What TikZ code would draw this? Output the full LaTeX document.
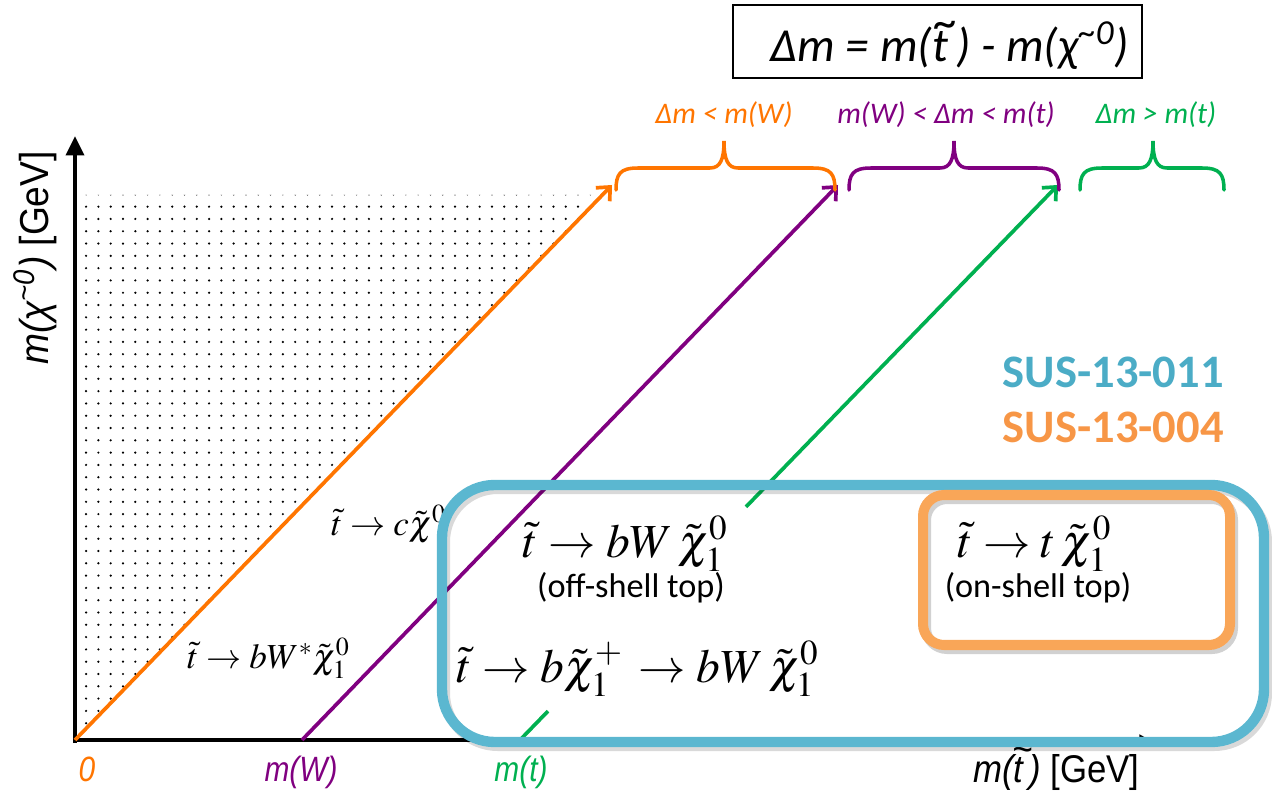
\documentclass[tikz,border=0pt]{standalone}
\usepackage{mathptmx}
\usepackage[no-math]{fontspec}
\usetikzlibrary{arrows.meta,patterns.meta,calc}
\setmainfont{Liberation Serif}
\newfontfamily\carl{Carlito}
\newfontfamily\arl{Liberation Sans}
\definecolor{cOr}{RGB}{255,117,0}
\definecolor{cPu}{RGB}{128,0,128}
\definecolor{cGr}{RGB}{0,176,80}
\definecolor{cBl}{RGB}{91,183,208}
\definecolor{cBlT}{RGB}{75,172,198}
\definecolor{cOrT}{RGB}{247,150,70}
\definecolor{cOrB}{RGB}{249,166,88}
\newcommand\tilt[1]{\ooalign{#1\cr\hidewidth\kern.25em\raisebox{.5em}{\textasciitilde}\hidewidth\cr}}
\newcommand\rangebrace[4]{% color, x1, xc, x2
  \draw[#1,bracestyle] (#2,190) .. controls (#2,174) and ({#2+4},168) .. ({#2+22},168)
    -- ({#3-14},168) .. controls ({#3-4},168) and (#3,160) .. (#3,141)
    .. controls (#3,160) and ({#3+4},168) .. ({#3+14},168)
    -- ({#4-22},168) .. controls ({#4-4},168) and (#4,174) .. (#4,190);}
\begin{document}
\begin{tikzpicture}[x=0.02cm,y=-0.02cm,
  diag/.style={line width=2.1pt,-{Straight Barb[length=6pt,width=11pt]}},
  bracestyle/.style={line width=2pt,line cap=round},
  rlab/.style={font=\carl\itshape\fontsize{17}{17}\selectfont,anchor=base},
  axlab/.style={font=\arl\itshape\fontsize{20}{20}\selectfont,anchor=base},
  bigeq/.style={font=\fontsize{27}{27}\selectfont,anchor=base west,inner sep=0pt},
  smalleq/.style={font=\fontsize{20}{20}\selectfont,anchor=base west,inner sep=0pt},
  shelltxt/.style={font=\carl\fontsize{19.5}{19.5}\selectfont,anchor=base,inner sep=0pt},
  sustxt/.style={font=\carl\bfseries\fontsize{26.5}{26.5}\selectfont,anchor=base east,inner sep=0pt},
  axis/.style={line width=2.6pt}]
\useasboundingbox (0,0) rectangle (1272,797);
% coordinates
\coordinate (O) at (75,740);
\coordinate (W0) at (302,740);
\coordinate (T0) at (520,740);
\coordinate (O1) at (612,185);
\coordinate (W1) at (838,185);
\coordinate (T1) at (1058,185);
% dotted region
\fill[pattern={Dots[distance=7pt,radius=0.7pt]},pattern color=black] (79,195) -- (602,195) -- (78,738) -- cycle;
% axes
\draw[axis,-{Triangle[length=11pt,width=10pt]}] (75,743) -- (75,136);
\draw[axis,-{Triangle[length=6pt,width=6pt]}] (73,740) -- (1150,740);
% diagonal lines
\draw[diag,cOr] (O) -- (O1);
\draw[diag,cPu] (W0) -- (W1);
\draw[line width=2.1pt,cGr] (T0) -- ($(T0)!0.052!(T1)$);
\draw[diag,cGr] ($(T0)!0.42!(T1)$) -- (T1);
% braces
\rangebrace{cOr}{616}{724}{835}
\rangebrace{cPu}{849}{954}{1059}
\rangebrace{cGr}{1080}{1153}{1224}
\node[rlab,text=cOr] (r1) at (724,124) {Δm < m(W)};
\node[rlab,text=cPu] (r2) at (946,124) {m(W) < Δm < m(t)};
\node[rlab,text=cGr] (r3) at (1156,124) {Δm > m(t)};
% formula box
\node[draw,line width=0.9pt,minimum width=8.18cm,minimum height=1.46cm] (fb) at (937.5,41.5) {};
\node[font=\carl\itshape\fontsize{27}{27}\selectfont,anchor=base,inner sep=0pt] (ft) at (950,62)
  {Δm = m(\tilt{t}\,) - m(χ\textsuperscript{\textasciitilde0})};
% axis labels
\node[axlab,text=cOr] (l0) at (87,781) {\scalebox{0.85}[1]{0}};
\node[axlab,text=cPu] (lW) at (301,781) {\scalebox{0.85}[1]{m(W)}};
\node[axlab,text=cGr] (lt) at (521,781) {\scalebox{0.85}[1]{m(t)}};
\node[axlab,anchor=base west,font=\arl\itshape\fontsize{22}{22}\selectfont] (lx) at (967,782) {\scalebox{0.9}[1]{m(\tilt{t}\,) \upshape[GeV]}};
\node[axlab,rotate=90,font=\arl\itshape\fontsize{23}{23}\selectfont] (ly) at (49,258) {\scalebox{0.92}[1]{m(χ\textsuperscript{\textasciitilde0}) \upshape[GeV]}};
% small equations
\node[smalleq] (ec) at (331,535) {$\tilde{t}\rightarrow c\tilde{\chi}^{0}$};
\node[smalleq] (ew) at (187,668) {$\tilde{t}\rightarrow bW^{*}\tilde{\chi}_{1}^{0}$};
% shadows
\draw[black,opacity=0.15,line width=5.7pt,rounded corners=30pt] (445,489) rectangle (1267,746);
% blue box
\draw[cBl,line width=5.9pt,rounded corners=30pt] (442,485) rectangle (1264,742);
% orange box
\draw[black,opacity=0.18,line width=5.7pt,rounded corners=12pt] (926,499) rectangle (1233,649);
\draw[cOrB,line width=5.7pt,rounded corners=12pt] (923,495) rectangle (1230,645);
% big equations
\node[bigeq] (e1) at (522,557) {$\tilde{t}\rightarrow bW\,\tilde{\chi}_{1}^{0}$};
\node[shelltxt] (s1) at (631,597) {(off-shell top)};
\node[bigeq] (e2) at (456,682) {$\tilde{t}\rightarrow b\tilde{\chi}_{1}^{+}\,\rightarrow bW\,\tilde{\chi}_{1}^{0}$};
\node[bigeq] (e3) at (957,557) {$\tilde{t}\rightarrow t\,\tilde{\chi}_{1}^{0}$};
\node[shelltxt] (s3) at (1038,597) {(on-shell top)};
% SUS labels
\node[sustxt,text=cBlT] (sus1) at (1224,388) {SUS-13-011};
\node[sustxt,text=cOrT] (sus2) at (1224,442) {SUS-13-004};
\end{tikzpicture}
\end{document}
